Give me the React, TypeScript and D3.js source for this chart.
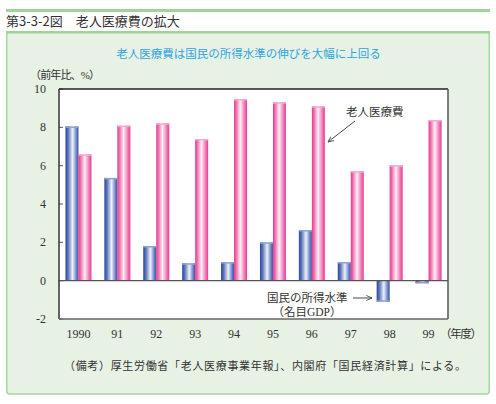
import React from "react";
import * as d3 from "d3";

const years = ["1990", "91", "92", "93", "94", "95", "96", "97", "98", "99"];
const gdpGrowth = [8.05, 5.36, 1.81, 0.91, 0.97, 2.0, 2.64, 0.97, -1.1, -0.14];
const medicalGrowth = [6.59, 8.09, 8.21, 7.39, 9.48, 9.31, 9.1, 5.71, 6.02, 8.38];
const yTicks = [-2, 0, 2, 4, 6, 8, 10];

const W = 496;
const H = 404;
const M = { left: 59, right: 448, top: 89, bottom: 319 };

const serif = "'Liberation Serif', 'DejaVu Serif', 'Noto Sans CJK JP', serif";
const jp = "'Noto Sans CJK JP', sans-serif";

export default function App() {
  const x = d3.scaleBand<string>().domain(years).range([M.left, M.right]).paddingInner(0).paddingOuter(0);
  const y = d3.scaleLinear().domain([-2, 10]).range([M.bottom, M.top]);
  const barW = 13;
  const y0 = y(0);

  return (
    <svg width={W} height={H} style={{ position: "absolute", left: 0, top: 0 }}>
      <defs>
        <linearGradient id="gBlue" x1="0" x2="1" y1="0" y2="0">
          <stop offset="0%" stopColor="#2a4797" />
          <stop offset="20%" stopColor="#5a74bb" />
          <stop offset="55%" stopColor="#eef1fa" />
          <stop offset="85%" stopColor="#6a82c2" />
          <stop offset="100%" stopColor="#34509f" />
        </linearGradient>
        <linearGradient id="gPink" x1="0" x2="1" y1="0" y2="0">
          <stop offset="0%" stopColor="#e8378f" />
          <stop offset="20%" stopColor="#f07ab5" />
          <stop offset="48%" stopColor="#fdf0f6" />
          <stop offset="80%" stopColor="#f27cb6" />
          <stop offset="100%" stopColor="#e53a92" />
        </linearGradient>
        <marker id="arr" viewBox="0 0 10 10" refX="9" refY="5" markerWidth="7" markerHeight="7" orient="auto">
          <path d="M0,1 L9,5 L0,9" fill="none" stroke="#333" strokeWidth="1.2" />
        </marker>
      </defs>
      <rect x={0} y={0} width={W} height={H} fill="#fff" />
      {/* header */}
      <rect x={6} y={9} width={484} height={3} fill="#9fd39a" />
      <text x={6} y={26} fontFamily={jp} fontSize={13} fill="#333">第3-3-2図　老人医療費の拡大</text>
      {/* panel */}
      <rect x={6.75} y={32} width={482.5} height={362} rx={3} fill="#e7f1e4" stroke="#a6d8a0" strokeWidth={1.5} />
      <rect x={6} y={31} width={484} height={2.5} fill="#9fd39a" />
      <text x={248.5} y={58} textAnchor="middle" fontFamily={jp} fontSize={11.5} fill="#2ba6e0">老人医療費は国民の所得水準の伸びを大幅に上回る</text>
      <text x={30} y={79} fontFamily={serif} fontSize={11} fill="#333" textLength={70} lengthAdjust="spacing">（前年比、%）</text>
      {/* plot */}
      <rect x={M.left} y={M.top} width={M.right - M.left} height={M.bottom - M.top} fill="#fff" />
      {yTicks.map((t) => (
        <g key={t}>
          <text x={46} y={y(t) + 4} textAnchor="end" fontFamily={serif} fontSize={12} fill="#333">{t}</text>
          <line x1={M.left} x2={M.left + 4} y1={y(t)} y2={y(t)} stroke="#555" strokeWidth={1} />
        </g>
      ))}
      {years.map((yr, i) => {
        const cx = (x(yr) as number) + x.bandwidth() / 2;
        const g = gdpGrowth[i];
        const m = medicalGrowth[i];
        const gy = Math.min(y(g), y0);
        const gh = Math.abs(y(g) - y0);
        const my = Math.min(y(m), y0);
        const mh = Math.abs(y(m) - y0);
        return (
          <g key={yr}>
            <rect x={cx - barW} y={gy} width={barW} height={gh} fill="url(#gBlue)" />
            <rect x={cx - barW} y={g >= 0 ? gy : gy + gh - 1.5} width={barW} height={1.5} fill="#8fa3d6" />
            <rect x={cx} y={my} width={barW} height={mh} fill="url(#gPink)" />
            <rect x={cx} y={my} width={barW} height={1.5} fill="#f7a9cf" />
            <text x={cx} y={338} textAnchor="middle" fontFamily={serif} fontSize={12} fill="#333">{yr}</text>
          </g>
        );
      })}
      <line x1={M.left} x2={M.right} y1={y0} y2={y0} stroke="#555" strokeWidth={1.2} />
      <line x1={M.left} x2={M.right} y1={M.top} y2={M.top} stroke="#222" strokeWidth={1.5} />
      <line x1={M.left} x2={M.left} y1={M.top} y2={M.bottom} stroke="#333" strokeWidth={1.5} />
      <line x1={M.right} x2={M.right} y1={M.top} y2={M.bottom} stroke="#555" strokeWidth={1.5} />
      <line x1={M.left} x2={M.right} y1={M.bottom} y2={M.bottom} stroke="#666" strokeWidth={1.5} />
      <text x={440} y={338} fontFamily={serif} fontSize={11.5} fill="#333" textLength={42} lengthAdjust="spacing">（年度）</text>
      {/* annotations */}
      <text x={346} y={116} fontFamily={serif} fontSize={11.5} fill="#333">老人医療費</text>
      <line x1={355} y1={121} x2={328} y2={142} stroke="#333" strokeWidth={0.9} markerEnd="url(#arr)" />
      <text x={267} y={302} fontFamily={serif} fontSize={11.5} fill="#333">国民の所得水準</text>
      <line x1={353} y1={298} x2={372} y2={298} stroke="#333" strokeWidth={0.9} markerEnd="url(#arr)" />
      <text x={307} y={316} textAnchor="middle" fontFamily={serif} fontSize={11.5} fill="#333">（名目GDP）</text>
      <text x={64} y={370} fontFamily={serif} fontSize={11} fill="#333" textLength={402} lengthAdjust="spacing">（備考）厚生労働省「老人医療事業年報」、内閣府「国民経済計算」による。</text>
    </svg>
  );
}
